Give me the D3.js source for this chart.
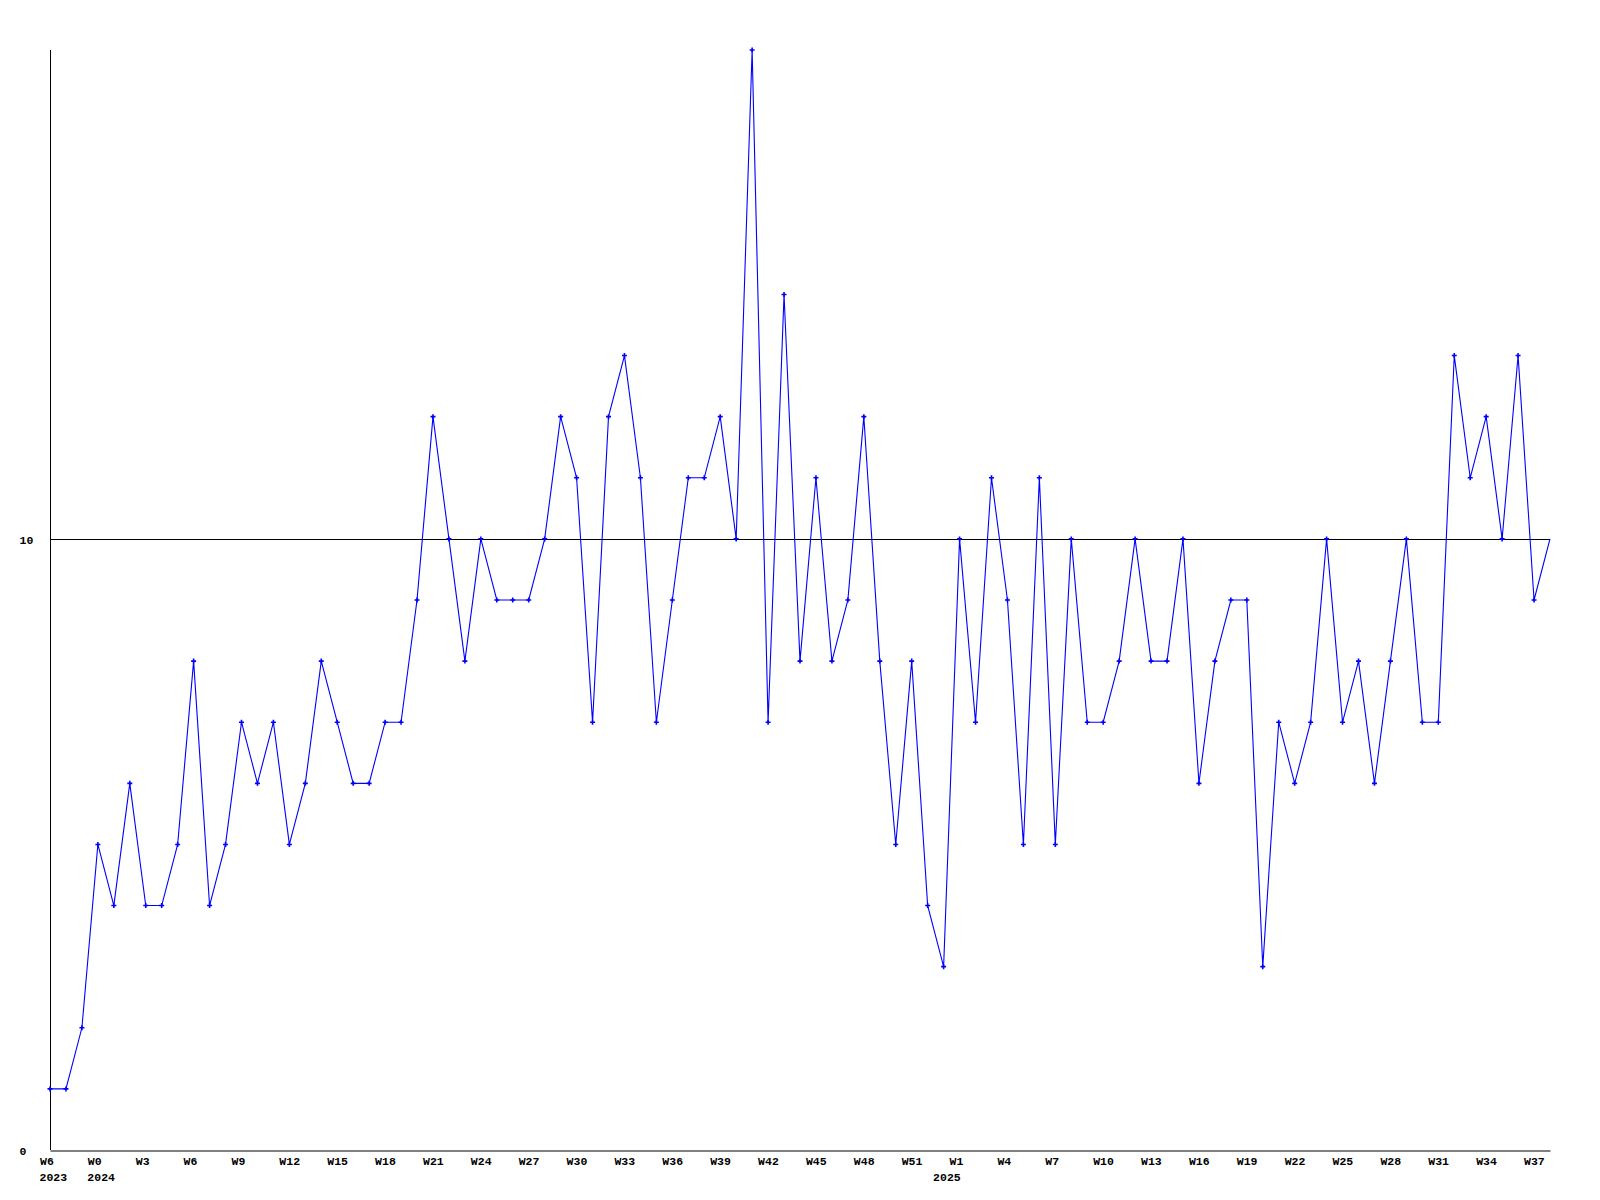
<!DOCTYPE html>
<html>
<head>
<meta charset="utf-8">
<script src="https://cdn.jsdelivr.net/npm/d3@7"></script>
<style>
  html, body { margin: 0; padding: 0; background: #fff; }
  svg { display: block; }
  text { font-family: "Liberation Mono", "DejaVu Sans Mono", monospace; font-weight: bold; font-size: 11.5px; fill: #000; }
</style>
</head>
<body>
<script>
// Weekly values, one per week (first point: 2023, last point: 2025 W38, partial)
const values = [
  1, 1, 2, 5, 4, 6, 4, 4, 5, 8,
  4, 5, 7, 6, 7, 5, 6, 8, 7, 6,
  6, 7, 7, 9, 12, 10, 8, 10, 9, 9,
  9, 10, 12, 11, 7, 12, 13, 11, 7, 9,
  11, 11, 12, 10, 18, 7, 14, 8, 11, 8,
  9, 12, 8, 5, 8, 4, 3, 10, 7, 11,
  9, 5, 11, 5, 10, 7, 7, 8, 10, 8,
  8, 10, 6, 8, 9, 9, 3, 7, 6, 7,
  10, 7, 8, 6, 8, 10, 7, 7, 13, 11,
  12, 10, 13, 9, 10
];
// x tick positions (week index) and their labels
const tickIndex = [0, 3, 6, 9, 12, 15, 18, 21, 24, 27, 30, 33, 36, 39, 42, 45, 48, 51, 54, 57, 60, 63, 66, 69, 72, 75, 78, 81, 84, 87, 90, 93];
const tickLabels = ["W6", "W0", "W3", "W6", "W9", "W12", "W15", "W18", "W21", "W24", "W27", "W30", "W33", "W36", "W39", "W42", "W45", "W48", "W51", "W1", "W4", "W7", "W10", "W13", "W16", "W19", "W22", "W25", "W28", "W31", "W34", "W37"];
const yearIndex = [0, 3, 56];
const yearLabels = ["2023", "2024", "2025"];
const yTicks = [0, 10];
const yMax = 18;

const W = 1600, H = 1200;
const svg = d3.select("body").append("svg").attr("width", W).attr("height", H);

const x = d3.scaleLinear().domain([0, values.length - 1]).range([50, 1550]);
const y = d3.scaleLinear().domain([0, yMax]).range([1150, 50]);

// reference line at 10
svg.append("g").selectAll("line").data(yTicks.filter(d => d > 0)).join("line")
  .attr("x1", x(0)).attr("x2", x(values.length - 1))
  .attr("y1", d => Math.round(y(d)) + 0.5).attr("y2", d => Math.round(y(d)) + 0.5)
  .attr("stroke", "#000").attr("stroke-width", 1);

// y axis
const yAxis = svg.append("g").attr("transform", "translate(50.5,0)")
  .call(d3.axisLeft(y).tickValues(yTicks).tickSize(0).tickFormat(d3.format("d")));
yAxis.select(".domain").attr("stroke", "#000").attr("d", `M0,${y(yMax)}V${y(0)}`);
yAxis.selectAll("text").attr("text-anchor", "start").attr("x", -31).attr("dy", "0.36em");
yAxis.attr("font-family", null).attr("font-size", null);

// x axis
const xAxis = svg.append("g").attr("transform", "translate(0,1150.5)")
  .call(d3.axisBottom(x).tickValues(tickIndex).tickSize(0).tickFormat((d, i) => tickLabels[i]));
xAxis.select(".domain").attr("stroke", "#000");
xAxis.selectAll("text").attr("text-anchor", "start").attr("dx", -10.5).attr("dy", 0).attr("y", 14.5);
xAxis.attr("font-family", null).attr("font-size", null);

// year labels
svg.append("g").selectAll("text").data(yearIndex).join("text")
  .attr("x", d => x(d) - 10.5).attr("y", 1181)
  .text((d, i) => yearLabels[i]);

// line
const line = d3.line().x((d, i) => x(i)).y(d => y(d));
svg.append("path").datum(values)
  .attr("d", line).attr("fill", "none").attr("stroke", "#0000ff").attr("stroke-width", 1.1);

// markers (not on the last, partial week)
svg.append("g").selectAll("path").data(values.slice(0, values.length - 1)).join("path")
  .attr("d", (d, i) => {
    const cx = x(i), cy = y(d);
    return `M${cx - 2.5},${cy}H${cx + 2.5}M${cx},${cy - 2.5}V${cy + 2.5}`;
  })
  .attr("stroke", "#0000ff").attr("stroke-width", 1.6).attr("fill", "none");
</script>
</body>
</html>
